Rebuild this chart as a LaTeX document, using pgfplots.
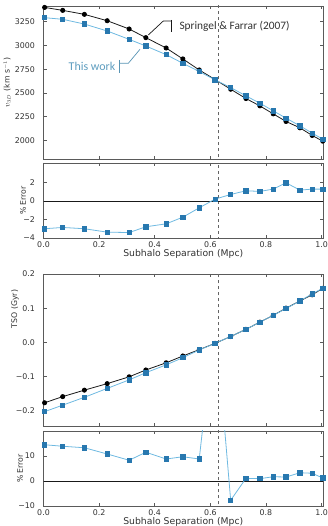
\documentclass[border=0pt]{standalone}
\usepackage{pgfplots}
\pgfplotsset{compat=1.18}
\usepackage{fontspec}
\setmainfont{DejaVu Sans}
\newfontfamily\annfont{Carlito}
\definecolor{bline}{RGB}{110,185,225}
\definecolor{bmark}{RGB}{40,120,175}
\definecolor{kline}{RGB}{25,25,25}
\definecolor{frame}{RGB}{90,90,90}
\definecolor{dashc}{RGB}{100,100,100}
\definecolor{tcol}{RGB}{50,50,50}
\pgfplotsset{
  base/.style={
    scale only axis, width=279.5bp, anchor=south west,
    xmin=0, xmax=1.005,
    axis line style={frame, line width=0.6pt},
    tick style={frame, line width=0.5pt},
    tick align=inside, tick pos=both, major tick length=3bp,
    xtick={0,0.2,0.4,0.6,0.8,1.0},
    ticklabel style={font=\fontsize{7.9}{8.5}\selectfont, text=tcol},
    /pgf/number format/assume math mode=true,
    every axis y label/.style={rotate=90, anchor=center, font=\fontsize{7.8}{9}\selectfont, text=tcol},
    every axis x label/.style={at={(axis description cs:0.5,0)}, yshift=-16bp, anchor=center, font=\fontsize{9.3}{11}\selectfont, text=tcol},
    yticklabel style={xshift=-5bp},
    clip=true,
  },
  kser/.style={kline, line width=0.8pt, mark=*, mark size=2.1bp, mark options={fill=black, draw=black}},
  bser/.style={bline, line width=0.8pt, mark=square*, mark size=2.2bp, mark options={fill=bmark, draw=bmark}},
  vdash/.style={dashc, dashed, line width=0.8pt, forget plot},
}
\begin{document}
\begin{tikzpicture}
\path[use as bounding box] (0bp,0bp) rectangle (328bp,526bp);
% Panel 1
\begin{axis}[base, at={(43.5bp,367bp)}, height=153bp,
  ymin=1805, ymax=3415,
  ytick={2000,2250,2500,2750,3000,3250},
  yticklabels={2000,2250,2500,2750,3000,3250},
  xticklabels={},
  ylabel={$v_{3D}$ (km s$^{-1}$)},
  every axis y label/.append style={at={(axis description cs:-0.13,0.5)}}]
\addplot[vdash] coordinates {(0.63,0) (0.63,5000)};
\addplot[kser] coordinates {
(0.004,3400) (0.069,3369) (0.147,3327) (0.229,3260) (0.308,3173) (0.368,3082)
(0.441,2973) (0.501,2858) (0.560,2742) (0.617,2641) (0.673,2539) (0.728,2441)
(0.778,2364) (0.826,2280) (0.872,2200) (0.922,2133) (0.966,2053) (1.004,1993)};
\addplot[bser] coordinates {
(0.004,3292) (0.069,3275) (0.147,3225) (0.229,3152) (0.308,3064) (0.368,2994)
(0.441,2903) (0.501,2812) (0.560,2725) (0.617,2637) (0.673,2557) (0.728,2469)
(0.778,2392) (0.826,2312) (0.872,2235) (0.922,2154) (0.966,2077) (1.004,2014)};
\end{axis}
% Panel 2
\begin{axis}[base, at={(43.5bp,288bp)}, height=75bp,
  ymin=-4, ymax=4.1,
  ytick={-4,-2,0,2}, yticklabels={−4,−2,0,2},
  xticklabels={0.0,0.2,0.4,0.6,0.8,1.0},
  ylabel={\% Error}, xlabel={Subhalo Separation (Mpc)},
  every axis y label/.append style={at={(axis description cs:-0.073,0.5)}}]
\addplot[vdash] coordinates {(0.63,-10) (0.63,10)};
\addplot[kline, line width=0.8pt, forget plot] coordinates {(-1,0) (2,0)};
\addplot[bser] coordinates {
(0.004,-3.0) (0.069,-2.86) (0.147,-3.0) (0.229,-3.37) (0.308,-3.41) (0.368,-2.79)
(0.441,-2.47) (0.501,-1.75) (0.560,-0.74) (0.617,0.20) (0.673,0.70) (0.728,1.10)
(0.778,1.03) (0.826,1.28) (0.872,1.96) (0.922,1.17) (0.966,1.28) (1.004,1.28)};
\end{axis}
% Panel 3
\begin{axis}[base, at={(43.5bp,100bp)}, height=152bp,
  ymin=-0.245, ymax=0.2,
  ytick={-0.2,-0.1,0,0.1,0.2}, yticklabels={−0.2,−0.1,0.0,0.1,0.2},
  xticklabels={},
  ylabel={TSO (Gyr)},
  every axis y label/.append style={at={(axis description cs:-0.102,0.77)}}]
\addplot[vdash] coordinates {(0.63,-1) (0.63,1)};
\addplot[kser] coordinates {
(0.004,-0.177) (0.069,-0.159) (0.147,-0.140) (0.229,-0.121) (0.308,-0.101) (0.368,-0.081)
(0.441,-0.060) (0.501,-0.040) (0.560,-0.0215) (0.617,-0.003) (0.673,0.017) (0.728,0.038)
(0.778,0.059) (0.826,0.079) (0.872,0.100) (0.922,0.121) (0.966,0.139) (1.004,0.158)};
\addplot[bser] coordinates {
(0.004,-0.203) (0.069,-0.184) (0.147,-0.161) (0.229,-0.135) (0.308,-0.110) (0.368,-0.089)
(0.441,-0.066) (0.501,-0.045) (0.560,-0.0225) (0.617,-0.003) (0.673,0.017) (0.728,0.038)
(0.778,0.059) (0.826,0.079) (0.872,0.099) (0.922,0.121) (0.966,0.142) (1.004,0.158)};
\end{axis}
% Panel 4
\begin{axis}[base, at={(43.5bp,20bp)}, height=75bp,
  ymin=-10, ymax=20,
  ytick={-10,0,10}, yticklabels={−10,0,10},
  xticklabels={0.0,0.2,0.4,0.6,0.8,1.0},
  ylabel={\% Error}, xlabel={Subhalo Separation (Mpc)},
  every axis y label/.append style={at={(axis description cs:-0.084,0.5)}}]
\addplot[vdash] coordinates {(0.63,-50) (0.63,100)};
\addplot[kline, line width=0.8pt, forget plot] coordinates {(-1,0) (2,0)};
\addplot[bser] coordinates {
(0.004,14.5) (0.069,13.9) (0.147,13.3) (0.229,10.8) (0.308,8.3) (0.368,11.5)
(0.441,8.8) (0.501,9.7) (0.560,8.8) (0.617,66) (0.673,-7.7) (0.728,1.07)
(0.778,0.93) (0.826,1.7) (0.872,1.6) (0.922,3.3) (0.966,3.1) (1.004,1.2)};
\end{axis}
% annotations
\draw[kline, line width=0.7pt] (171.7bp,506bp) -- (171.7bp,494bp);
\draw[kline, line width=0.7pt] (171.7bp,505bp) -- (163.3bp,505bp) -- (148.3bp,491bp);
\node[anchor=west, inner sep=0pt, text=tcol, font=\annfont\fontsize{11.4}{13}\selectfont] at (179.3bp,500bp) {Springel \& Farrar (2007)};
\draw[bline!80!black, line width=0.7pt] (119.3bp,466bp) -- (119.3bp,453.3bp);
\draw[bline!80!black, line width=0.7pt] (119.3bp,462.7bp) -- (128.3bp,462.7bp) -- (140bp,476.7bp);
\node[anchor=east, inner sep=0pt, text=bline!85!black, font=\annfont\fontsize{12}{14}\selectfont] at (115.5bp,459.3bp) {This work};
\end{tikzpicture}
\end{document}
